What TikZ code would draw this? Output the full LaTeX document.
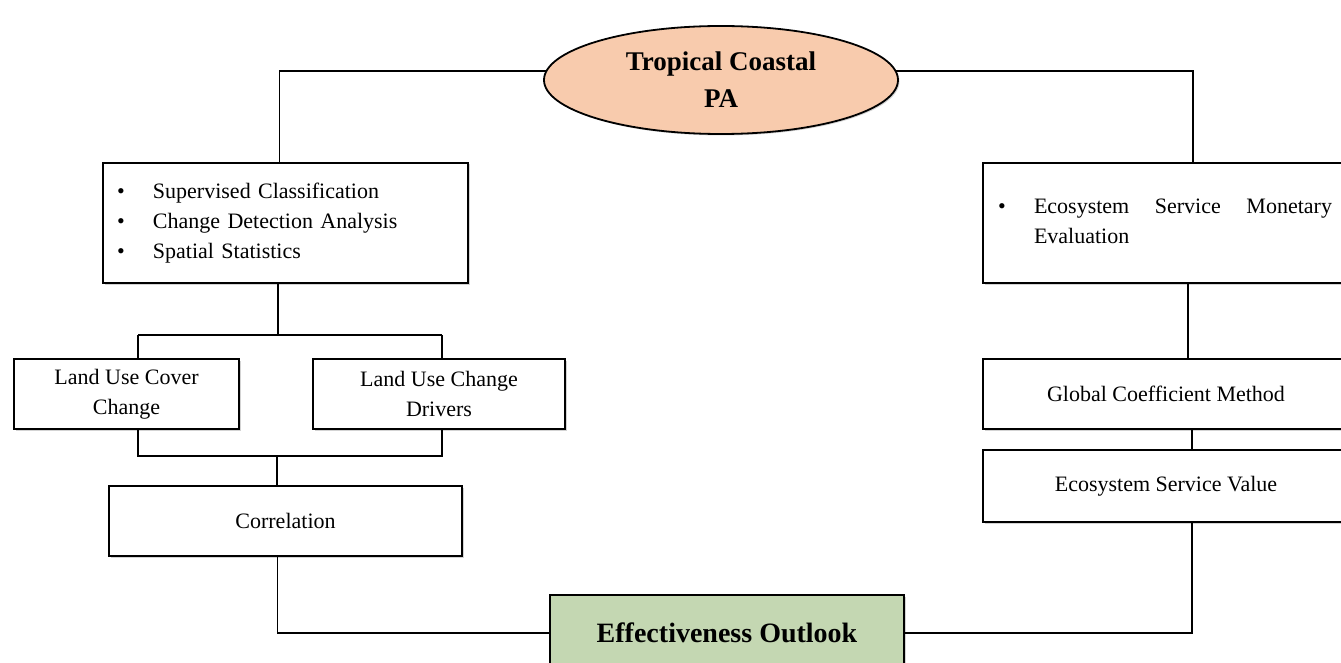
\documentclass[tikz,border=0pt]{standalone}
\usepackage{fontspec}
\usepackage{array}
\setmainfont{Liberation Serif}
\usetikzlibrary{shapes.geometric,shadows}
\definecolor{peach}{RGB}{248,203,173}
\definecolor{sage}{RGB}{196,215,178}
\tikzset{
  box/.style={draw=black, line width=2pt, fill=white, rectangle, anchor=north west,
     inner sep=0pt, drop shadow={shadow xshift=1.5pt, shadow yshift=-1.5pt, opacity=0.35},
     font=\fontsize{22}{30}\selectfont},
  conn/.style={draw=black, line width=1.8pt},
}
\begin{document}
\begin{tikzpicture}[x=1pt,y=-1pt]
\useasboundingbox (0,0) rectangle (1341,663);
\clip (0,0) rectangle (1341,663);
% ellipse
\node[ellipse, draw=black, line width=1.8pt, fill=peach, minimum width=354, minimum height=108,
  drop shadow={shadow xshift=1.5pt, shadow yshift=-1.5pt, opacity=0.35},
  align=center, font=\fontsize{27}{37}\selectfont\bfseries] (ell) at (721,80) {Tropical Coastal\\PA};
% left boxes
\node[box, minimum width=365, minimum height=120, text width=337, inner xsep=14pt, align=left] (tl) at (102,162)
 {\begin{tabular}{@{}p{36pt}@{}l@{}}\textbullet & Supervised Classification\\ \textbullet & Change Detection Analysis\\ \textbullet & Spatial Statistics\end{tabular}};
\node[box, minimum width=225, minimum height=70, align=center] (lucc) at (13,358) {Land Use Cover\\Change};
\node[box, minimum width=252, minimum height=70, align=center] (lucd) at (312,358) {Land Use Change\\Drivers};
\node[box, minimum width=353, minimum height=70] (corr) at (108,485) {Correlation};
% right boxes
\node[box, minimum width=366, minimum height=120, text width=336, inner xsep=15pt, align=left] (tr) at (982,162)
 {\hyphenpenalty=10000\begin{tabular}{@{}p{36pt}@{}>{\rightskip=0pt\spaceskip=0pt\xspaceskip=0pt\parfillskip=0pt plus 1fil}p{298pt}@{}}\textbullet & Ecosystem Service Monetary Evaluation\end{tabular}};
\node[box, minimum width=366, minimum height=70] (gcm) at (982,358) {Global Coefficient Method};
\node[box, minimum width=366, minimum height=72] (esv) at (982,449) {Ecosystem Service Value};
% bottom
\node[box, fill=sage, minimum width=354, minimum height=76, font=\fontsize{28}{34}\selectfont\bfseries] (eo) at (549,594) {Effectiveness Outlook};
% junction coordinates
\coordinate (j1) at (278,335);
\coordinate (j1l) at (138,335);
\coordinate (j1r) at (442,335);
\coordinate (j2l) at (138,456);
\coordinate (j2r) at (442,456);
\coordinate (j2) at (277,456);
% connectors
\draw[conn] (ell.177) -| ([xshift=-6pt]tl.north);
\draw[conn] (j1 |- tl.south) -- (j1);
\draw[conn] (j1l) -- (j1r);
\draw[conn] (j1l) -- (j1l |- lucc.north);
\draw[conn] (j1r) -- (j1r |- lucd.north);
\draw[conn] (j2l |- lucc.south) -- (j2l) -- (j2r) -- (j2r |- lucd.south);
\draw[conn] (j2) -- (j2 |- corr.north);
\draw[conn] ([xshift=-8pt]corr.south) |- (eo.west);
\draw[conn] (ell.3) -| ([xshift=27pt]tr.north);
\draw[conn] ([xshift=22pt]tr.south) -- ([xshift=22pt]gcm.north);
\draw[conn] ([xshift=26pt]gcm.south) -- ([xshift=26pt]esv.north);
\draw[conn] ([xshift=26pt]esv.south) |- (eo.east);
\end{tikzpicture}
\end{document}
